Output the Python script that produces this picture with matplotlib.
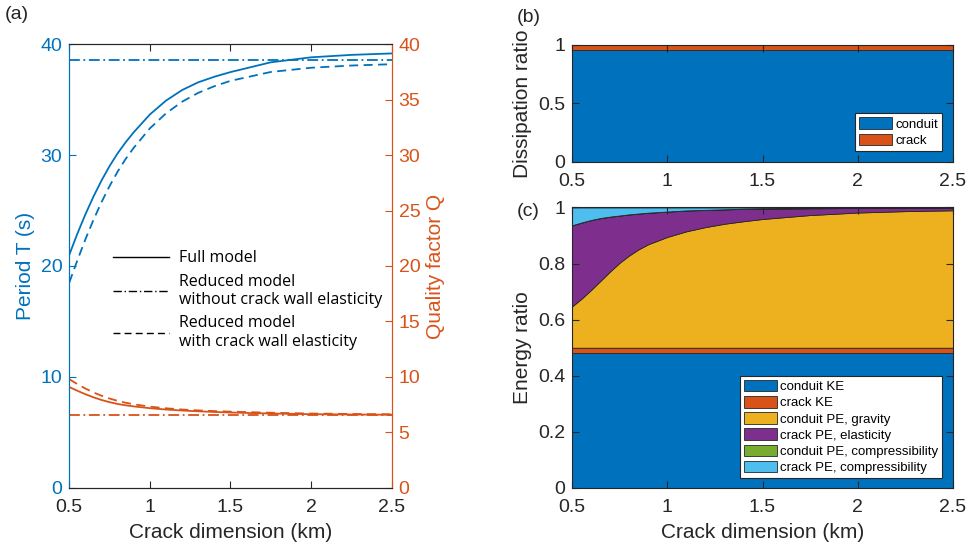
import numpy as np
import matplotlib
matplotlib.use('Agg')
import matplotlib.pyplot as plt

plt.rcParams['font.family'] = ['Liberation Sans', 'DejaVu Sans']

# crack dimension (km)
L = [0.5, 0.55, 0.6, 0.65, 0.7, 0.75, 0.8, 0.85, 0.9, 1.0, 1.1, 1.2, 1.3, 1.4, 1.5, 1.75, 2.0, 2.25, 2.5]

# period T (s)
T_full = [21.0, 22.9, 24.65, 26.25, 27.7, 29.0, 30.15, 31.15, 32.05, 33.65, 34.9, 35.85, 36.55,
          37.05, 37.47, 38.35, 38.8, 39.02, 39.15]
T_elast = [18.5, 20.5, 22.4, 24.15, 25.75, 27.2, 28.5, 29.65, 30.65, 32.4, 33.75, 34.8, 35.6,
           36.2, 36.68, 37.48, 37.86, 38.06, 38.18]
T_rigid = 38.6

# quality factor Q
Q_full = [9.1, 8.76, 8.45, 8.17, 7.93, 7.73, 7.57, 7.45, 7.35, 7.19, 7.07, 6.98, 6.91, 6.85, 6.8,
          6.71, 6.65, 6.62, 6.6]
Q_elast = [9.8, 9.36, 8.96, 8.61, 8.31, 8.06, 7.85, 7.68, 7.54, 7.33, 7.18, 7.07, 6.99, 6.93, 6.88,
           6.78, 6.71, 6.67, 6.64]
Q_rigid = 6.57

# dissipation ratio
diss_conduit = 0.955
diss_crack = 0.045

# energy ratio (cumulative boundaries)
E_conduit_KE = 0.48
E_crack_KE = 0.02
top_gravity = [0.647, 0.675, 0.706, 0.739, 0.772, 0.803, 0.829, 0.851, 0.869, 0.895, 0.915, 0.930,
               0.942, 0.951, 0.959, 0.973, 0.982, 0.987, 0.99]
top_elastic = [0.936, 0.946, 0.955, 0.962, 0.967, 0.971, 0.975, 0.978, 0.981, 0.985, 0.989, 0.991,
               0.993, 0.995, 0.996, 0.997, 0.998, 0.999, 0.999]
E_conduit_comp = 0.0005

blue = '#0072BD'
orange = '#D95319'
yellow = '#EDB120'
purple = '#7E2F8E'
green = '#77AC30'
cyan = '#4DBEEE'
gray = '#262626'
edge = '#262626'
xt = [0.5, 1, 1.5, 2, 2.5]
xtl = ['0.5', '1', '1.5', '2', '2.5']

fig = plt.figure(figsize=(9.7, 5.48), dpi=100)

#%% panel (a)
ax = fig.add_axes([0.0714, 0.1095, 0.3324, 0.8102])
ax2 = ax.twinx()
dashdot = (0, (6, 2, 1, 2))
dashed = (0, (5, 3))
ax.plot(L, T_full, color=blue, lw=1.3)
ax.plot(L, T_elast, color=blue, lw=1.3, ls=dashed)
ax.plot([L[0], L[-1]], [T_rigid, T_rigid], color=blue, lw=1.3, ls=dashdot)
ax2.plot(L, Q_full, color=orange, lw=1.3)
ax2.plot(L, Q_elast, color=orange, lw=1.3, ls=dashed)
ax2.plot([L[0], L[-1]], [Q_rigid, Q_rigid], color=orange, lw=1.3, ls=dashdot)

for a in (ax, ax2):
    a.set_xlim(0.5, 2.5)
    a.set_ylim(0, 40)
ax.set_xticks(xt)
ax.set_xticklabels(xtl)
ax.set_yticks([0, 10, 20, 30, 40])
ax2.set_yticks([0, 5, 10, 15, 20, 25, 30, 35, 40])
ax.tick_params(axis='x', direction='in', top=True, labelsize=14, colors=gray, length=5, pad=8)
ax.tick_params(axis='y', direction='in', labelsize=14, colors=blue, length=5, pad=5)
ax2.tick_params(axis='y', direction='in', labelsize=14, colors=orange, length=5, pad=5)
for s in ('top', 'bottom'):
    ax.spines[s].set_color(gray)
    ax2.spines[s].set_color(gray)
for a in (ax, ax2):
    a.spines['left'].set_color(blue)
    a.spines['right'].set_color(orange)
ax.set_xlabel('Crack dimension (km)', fontsize=15, color=gray, labelpad=5)
ax.set_ylabel('Period T (s)', fontsize=15, color=blue, labelpad=4)
ax2.set_ylabel('Quality factor Q', fontsize=15, color=orange, labelpad=4)

h1, = ax.plot([], [], color='k', lw=1)
h2, = ax.plot([], [], color='k', lw=1, ls=dashdot)
h3, = ax.plot([], [], color='k', lw=1, ls=dashed)
ax2.legend([h1, h2, h3], ['Full model', 'Reduced model\nwithout crack wall elasticity',
                          'Reduced model\nwith crack wall elasticity'],
           loc='upper left', bbox_to_anchor=(0.136, 0.535), frameon=False,
           handlelength=3.5, handletextpad=0.6, labelspacing=0.45, borderpad=0, borderaxespad=0,
           prop={'family': 'Open Sans', 'size': 11.5})
fig.text(0.005, 0.965, '(a)', fontsize=14, color=gray)

#%% panel (b)
leg_kw = dict(fontsize=9.5, fancybox=False, edgecolor=gray, framealpha=1, handlelength=2.5,
              handleheight=0.95, labelspacing=0.22, borderpad=0.3, handletextpad=0.25,
              borderaxespad=0)
axb = fig.add_axes([0.5897, 0.7049, 0.3928, 0.2130])
xb = [L[0], L[-1]]
axb.stackplot(xb, [diss_conduit] * 2, [diss_crack] * 2, colors=[blue, orange],
              edgecolor=edge, linewidth=0.6, labels=['conduit', 'crack'])
axb.set_xlim(0.5, 2.5)
axb.set_ylim(0, 1)
axb.set_xticks(xt)
axb.set_xticklabels(xtl)
axb.set_yticks([0, 0.5, 1])
axb.set_yticklabels(['0', '0.5', '1'])
axb.tick_params(direction='in', top=True, right=True, labelsize=14, colors=gray, length=5)
axb.tick_params(axis='x', pad=8)
axb.tick_params(axis='y', pad=5)
for s in axb.spines.values():
    s.set_color(gray)
axb.set_ylabel('Dissipation ratio', fontsize=15, color=gray)
leg = axb.legend(loc='lower right', bbox_to_anchor=(0.971, 0.094), **leg_kw)
leg.get_frame().set_linewidth(0.8)
fig.text(0.533, 0.96, '(b)', fontsize=14, color=gray)

#%% panel (c)
axc = fig.add_axes([0.5897, 0.1095, 0.3928, 0.5119])
gtop = np.array(top_gravity)
etop = np.array(top_elastic)
E_gravity = gtop - (E_conduit_KE + E_crack_KE)
E_elastic = etop - gtop
E_crack_comp = 1 - etop - E_conduit_comp
n = len(L)
axc.stackplot(L, [E_conduit_KE] * n, [E_crack_KE] * n, E_gravity, E_elastic,
              [E_conduit_comp] * n, E_crack_comp,
              colors=[blue, orange, yellow, purple, green, cyan], edgecolor=edge, linewidth=0.6,
              labels=['conduit KE', 'crack KE', 'conduit PE, gravity', 'crack PE, elasticity',
                      'conduit PE, compressibility', 'crack PE, compressibility'])
axc.set_xlim(0.5, 2.5)
axc.set_ylim(0, 1)
axc.set_xticks(xt)
axc.set_xticklabels(xtl)
axc.set_yticks([0, 0.2, 0.4, 0.6, 0.8, 1])
axc.set_yticklabels(['0', '0.2', '0.4', '0.6', '0.8', '1'])
axc.tick_params(direction='in', top=True, right=True, labelsize=14, colors=gray, length=5)
axc.tick_params(axis='x', pad=8)
axc.tick_params(axis='y', pad=5)
for s in axc.spines.values():
    s.set_color(gray)
axc.set_ylabel('Energy ratio', fontsize=15, color=gray)
axc.set_xlabel('Crack dimension (km)', fontsize=15, color=gray, labelpad=5)
leg = axc.legend(loc='lower right', bbox_to_anchor=(0.971, 0.036), **leg_kw)
leg.get_frame().set_linewidth(0.8)
fig.text(0.533, 0.605, '(c)', fontsize=14, color=gray)

fig.savefig('out.png', dpi=100)
